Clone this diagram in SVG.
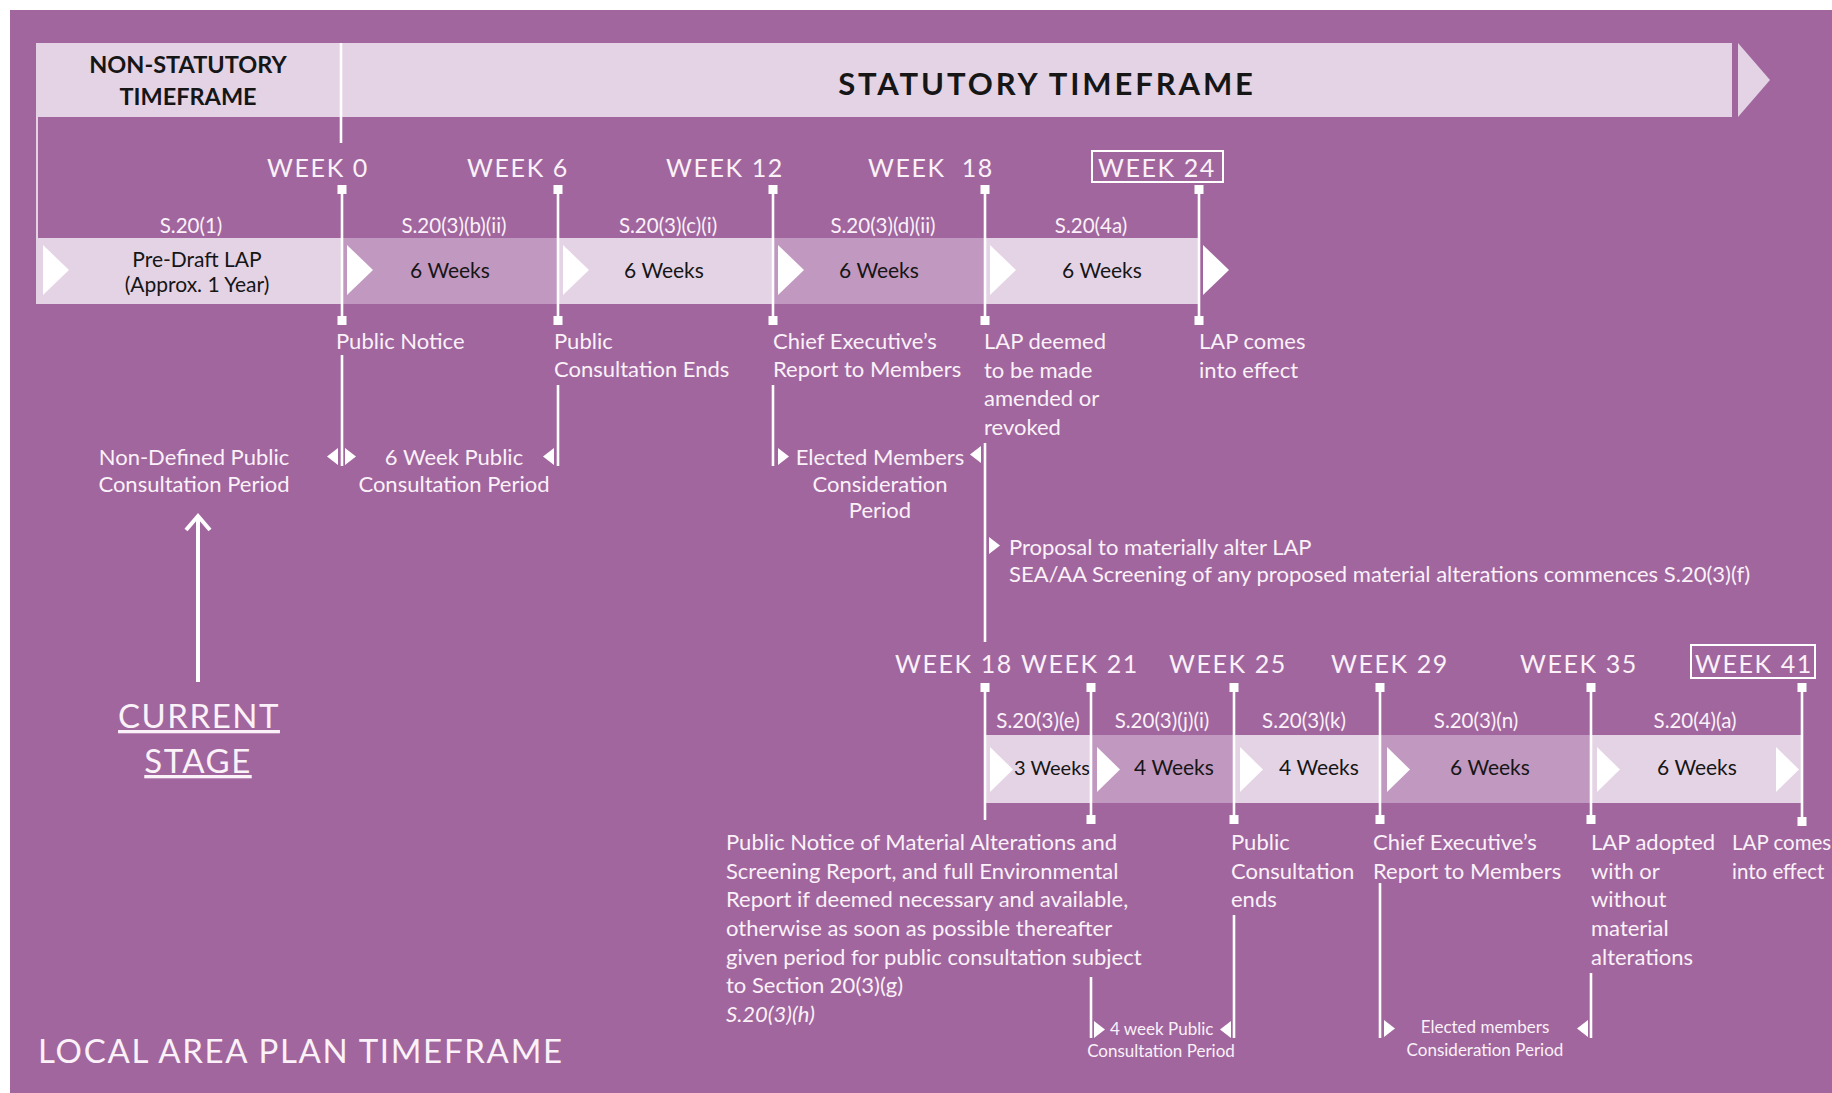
<svg xmlns="http://www.w3.org/2000/svg" width="1832" height="1093" viewBox="0 0 1832 1093">
<defs>
<style>
.t{font-family:Lato,"Open Sans","Liberation Sans",sans-serif;fill:#FAF1F9}
.d{font-family:Lato,"Open Sans","Liberation Sans",sans-serif;fill:#161616}
.wk{font-size:25px;letter-spacing:1.6px}
.sec{font-size:20.5px}
.bar{font-size:21px}
.lbl{font-size:22px}
.sm{font-size:17px}
.mid{text-anchor:middle}
.ln{stroke:#FFFFFF;stroke-width:2.6;fill:none}
.sq{fill:#FFFFFF}
.light{fill:#E4D3E5}
.med{fill:#C198C0}
.chev{fill:#FFFFFF}
</style>
<path id="chev1" d="M0,0 L26,25 L0,50 Z"/>
<path id="chev2" d="M0,0 L23,22.5 L0,45 Z"/>
<path id="tr" d="M0,0 L11,8.5 L0,17 Z"/>
<path id="tl" d="M11,0 L0,8.5 L11,17 Z"/>
<rect id="sqr" x="-4.5" y="0" width="9" height="9"/>
</defs>

<rect x="0" y="0" width="1832" height="1093" fill="#FFFFFF"/>
<rect x="10" y="10" width="1822" height="1083" fill="#A1669E"/>

<g id="banner">
<rect x="36" y="43" width="1696" height="74" class="light"/>
<path d="M1738,43 L1770,80 L1738,117 Z" class="light"/>
<text x="188" y="73" class="d mid" font-size="23.5" font-weight="bold">NON-STATUTORY</text>
<text x="188" y="105" class="d mid" font-size="23.5" font-weight="bold">TIMEFRAME</text>
<text x="1047" y="95" class="d mid" font-size="31" font-weight="bold" letter-spacing="2.9">STATUTORY TIMEFRAME</text>
</g>

<g id="timeline1">
<rect x="36" y="238" width="306" height="66" class="light"/>
<rect x="342" y="238" width="216" height="66" class="med"/>
<rect x="558" y="238" width="215" height="66" class="light"/>
<rect x="773" y="238" width="212" height="66" class="med"/>
<rect x="985" y="238" width="214" height="66" class="light"/>
<use href="#chev1" x="43" y="245" class="chev"/>
<use href="#chev1" x="347" y="245" class="chev"/>
<use href="#chev1" x="563" y="245" class="chev"/>
<use href="#chev1" x="778" y="245" class="chev"/>
<use href="#chev1" x="990" y="245" class="chev"/>
<use href="#chev1" x="1203" y="245" class="chev"/>
</g>

<g id="seg-predraft">
<text x="191" y="233" class="t sec mid">S.20(1)</text>
<text x="197" y="267" class="d bar mid">Pre-Draft LAP</text>
<text x="197" y="292" class="d bar mid">(Approx. 1 Year)</text>
</g>
<g id="seg-w0-6">
<text x="454" y="233" class="t sec mid">S.20(3)(b)(ii)</text>
<text x="450" y="278" class="d bar mid">6 Weeks</text>
</g>
<g id="seg-w6-12">
<text x="668" y="233" class="t sec mid">S.20(3)(c)(i)</text>
<text x="664" y="278" class="d bar mid">6 Weeks</text>
</g>
<g id="seg-w12-18">
<text x="883" y="233" class="t sec mid">S.20(3)(d)(ii)</text>
<text x="879" y="278" class="d bar mid">6 Weeks</text>
</g>
<g id="seg-w18-24">
<text x="1091" y="233" class="t sec mid">S.20(4a)</text>
<text x="1102" y="278" class="d bar mid">6 Weeks</text>
</g>

<g id="week0"><text x="318" y="177" class="t wk mid">WEEK 0</text></g>
<g id="week6"><text x="518" y="177" class="t wk mid">WEEK 6</text></g>
<g id="week12"><text x="725" y="177" class="t wk mid">WEEK 12</text></g>
<g id="week18"><text x="931" y="177" class="t wk mid" xml:space="preserve">WEEK  18</text></g>
<g id="week24">
<rect x="1092" y="151" width="131" height="31" fill="none" stroke="#FFFFFF" stroke-width="2"/>
<text x="1157" y="177" class="t wk mid">WEEK 24</text>
</g>

<g id="lbl-public-notice"><text x="336" y="349" class="t lbl">Public Notice</text></g>
<g id="lbl-consult-ends"><text x="554" y="349" class="t lbl">Public</text><text x="554" y="377" class="t lbl">Consultation Ends</text></g>
<g id="lbl-ce-report"><text x="773" y="349" class="t lbl">Chief Executive’s</text><text x="773" y="377" class="t lbl">Report to Members</text></g>
<g id="lbl-deemed"><text x="984" y="349" class="t lbl">LAP deemed</text><text x="984" y="378" class="t lbl">to be made</text><text x="984" y="406" class="t lbl">amended or</text><text x="984" y="435" class="t lbl">revoked</text></g>
<g id="lbl-effect1"><text x="1199" y="349" class="t lbl">LAP comes</text><text x="1199" y="378" class="t lbl">into effect</text></g>

<g id="period-nondefined"><text x="194" y="465" class="t lbl mid">Non-Defined Public</text><text x="194" y="492" class="t lbl mid">Consultation Period</text></g>
<g id="period-6week"><text x="454" y="465" class="t lbl mid">6 Week Public</text><text x="454" y="492" class="t lbl mid">Consultation Period</text></g>
<g id="period-elected1"><text x="880" y="465" class="t lbl mid">Elected Members</text><text x="880" y="492" class="t lbl mid">Consideration</text><text x="880" y="518" class="t lbl mid">Period</text></g>
<g id="proposal"><text x="1009" y="555" class="t lbl">Proposal to materially alter LAP</text><text x="1009" y="582" class="t lbl">SEA/AA Screening of any proposed material alterations commences S.20(3)(f)</text></g>

<g id="current-stage">
<line x1="198" y1="518" x2="198" y2="682" stroke="#FFFFFF" stroke-width="4"/>
<path d="M186,530 L198,516 L210,530" stroke="#FFFFFF" stroke-width="4" fill="none"/>
<text x="199" y="728" class="t mid" font-size="33" letter-spacing="1.5" text-decoration="underline">CURRENT</text>
<text x="198" y="773" class="t mid" font-size="33" letter-spacing="1.5" text-decoration="underline">STAGE</text>
</g>

<g id="timeline2">
<rect x="985" y="735" width="106" height="68" class="light"/>
<rect x="1091" y="735" width="143" height="68" class="med"/>
<rect x="1234" y="735" width="146" height="68" class="light"/>
<rect x="1380" y="735" width="211" height="68" class="med"/>
<rect x="1591" y="735" width="211" height="68" class="light"/>
<use href="#chev2" x="990" y="747" class="chev"/>
<use href="#chev2" x="1097" y="747" class="chev"/>
<use href="#chev2" x="1240" y="747" class="chev"/>
<use href="#chev2" x="1387" y="747" class="chev"/>
<use href="#chev2" x="1597" y="747" class="chev"/>
<use href="#chev2" x="1776" y="747" class="chev"/>
</g>

<g id="week18b"><text x="954" y="673" class="t wk mid">WEEK 18</text></g>
<g id="week21"><text x="1080" y="673" class="t wk mid">WEEK 21</text></g>
<g id="week25"><text x="1228" y="673" class="t wk mid">WEEK 25</text></g>
<g id="week29"><text x="1390" y="673" class="t wk mid">WEEK 29</text></g>
<g id="week35"><text x="1579" y="673" class="t wk mid">WEEK 35</text></g>
<g id="week41">
<rect x="1691" y="645" width="124" height="33" fill="none" stroke="#FFFFFF" stroke-width="2"/>
<text x="1754" y="673" class="t wk mid">WEEK 41</text>
</g>

<g id="seg2-a"><text x="1038" y="728" class="t sec mid">S.20(3)(e)</text><text x="1052" y="775" class="d mid" font-size="20">3 Weeks</text></g>
<g id="seg2-b"><text x="1162" y="728" class="t sec mid">S.20(3)(j)(i)</text><text x="1174" y="775" class="d bar mid">4 Weeks</text></g>
<g id="seg2-c"><text x="1304" y="728" class="t sec mid">S.20(3)(k)</text><text x="1319" y="775" class="d bar mid">4 Weeks</text></g>
<g id="seg2-d"><text x="1476" y="728" class="t sec mid">S.20(3)(n)</text><text x="1490" y="775" class="d bar mid">6 Weeks</text></g>
<g id="seg2-e"><text x="1695" y="728" class="t sec mid">S.20(4)(a)</text><text x="1697" y="775" class="d bar mid">6 Weeks</text></g>

<g id="lbl-material-notice">
<text x="726" y="850" class="t lbl">Public Notice of Material Alterations and</text>
<text x="726" y="879" class="t lbl">Screening Report, and full Environmental</text>
<text x="726" y="907" class="t lbl">Report if deemed necessary and available,</text>
<text x="726" y="936" class="t lbl">otherwise as soon as possible thereafter</text>
<text x="726" y="965" class="t lbl">given period for public consultation subject</text>
<text x="726" y="993" class="t lbl">to Section 20(3)(g)</text>
<text x="726" y="1022" class="t lbl" font-style="italic">S.20(3)(h)</text>
</g>
<g id="lbl-consult-ends2"><text x="1231" y="850" class="t lbl">Public</text><text x="1231" y="879" class="t lbl">Consultation</text><text x="1231" y="907" class="t lbl">ends</text></g>
<g id="lbl-ce-report2"><text x="1373" y="850" class="t lbl">Chief Executive’s</text><text x="1373" y="879" class="t lbl">Report to Members</text></g>
<g id="lbl-adopted"><text x="1591" y="850" class="t lbl">LAP adopted</text><text x="1591" y="879" class="t lbl">with or</text><text x="1591" y="907" class="t lbl">without</text><text x="1591" y="936" class="t lbl">material</text><text x="1591" y="965" class="t lbl">alterations</text></g>
<g id="lbl-effect2"><text x="1732" y="850" class="t" font-size="20.5">LAP comes</text><text x="1732" y="879" class="t" font-size="20.5">into effect</text></g>
<g id="period-4week"><text x="1110" y="1035" class="t sm">4 week Public</text><text x="1161" y="1057" class="t sm mid">Consultation Period</text></g>
<g id="period-elected2"><text x="1485" y="1033" class="t sm mid">Elected members</text><text x="1485" y="1056" class="t sm mid">Consideration Period</text></g>

<g id="title"><text x="38" y="1063" class="t" font-size="33" letter-spacing="1.7">LOCAL AREA PLAN TIMEFRAME</text></g>

<g id="connectors">
<line x1="37" y1="117" x2="37" y2="238" stroke="#E4D3E5" stroke-width="2"/>
<line x1="341" y1="43" x2="341" y2="143" class="ln"/>
<g>
<line x1="342" y1="190" x2="342" y2="320" class="ln"/><use href="#sqr" x="342" y="185" class="sq"/><use href="#sqr" x="342" y="316" class="sq"/>
<line x1="558" y1="190" x2="558" y2="320" class="ln"/><use href="#sqr" x="558" y="185" class="sq"/><use href="#sqr" x="558" y="316" class="sq"/>
<line x1="773" y1="190" x2="773" y2="320" class="ln"/><use href="#sqr" x="773" y="185" class="sq"/><use href="#sqr" x="773" y="316" class="sq"/>
<line x1="985" y1="190" x2="985" y2="320" class="ln"/><use href="#sqr" x="985" y="185" class="sq"/><use href="#sqr" x="985" y="316" class="sq"/>
<line x1="1199" y1="190" x2="1199" y2="320" class="ln"/><use href="#sqr" x="1199" y="185" class="sq"/><use href="#sqr" x="1199" y="316" class="sq"/>
</g>
<line x1="342" y1="355" x2="342" y2="466" class="ln"/>
<use href="#tl" x="327" y="448" class="sq"/><use href="#tr" x="345" y="448" class="sq"/>
<line x1="558" y1="385" x2="558" y2="466" class="ln"/>
<use href="#tl" x="543" y="448" class="sq"/>
<line x1="773" y1="385" x2="773" y2="466" class="ln"/>
<use href="#tr" x="778" y="448" class="sq"/>
<line x1="985" y1="443" x2="985" y2="642" class="ln"/>
<use href="#tl" x="970" y="446" class="sq"/>
<use href="#tr" x="989" y="537" class="sq"/>
<g>
<line x1="985" y1="688" x2="985" y2="820" class="ln"/><use href="#sqr" x="985" y="683" class="sq"/>
<line x1="1091" y1="688" x2="1091" y2="820" class="ln"/><use href="#sqr" x="1091" y="683" class="sq"/><use href="#sqr" x="1091" y="815" class="sq"/>
<line x1="1234" y1="688" x2="1234" y2="820" class="ln"/><use href="#sqr" x="1234" y="683" class="sq"/><use href="#sqr" x="1234" y="815" class="sq"/>
<line x1="1380" y1="688" x2="1380" y2="820" class="ln"/><use href="#sqr" x="1380" y="683" class="sq"/><use href="#sqr" x="1380" y="815" class="sq"/>
<line x1="1591" y1="688" x2="1591" y2="820" class="ln"/><use href="#sqr" x="1591" y="683" class="sq"/><use href="#sqr" x="1591" y="815" class="sq"/>
<line x1="1802" y1="688" x2="1802" y2="820" class="ln"/><use href="#sqr" x="1802" y="683" class="sq"/><use href="#sqr" x="1802" y="817" class="sq"/>
</g>
<line x1="1091" y1="977" x2="1091" y2="1038" class="ln"/>
<use href="#tr" x="1094" y="1021" class="sq"/>
<line x1="1234" y1="915" x2="1234" y2="1038" class="ln"/>
<use href="#tl" x="1220" y="1021" class="sq"/>
<line x1="1380" y1="883" x2="1380" y2="1038" class="ln"/>
<use href="#tr" x="1384" y="1020" class="sq"/>
<line x1="1591" y1="973" x2="1591" y2="1038" class="ln"/>
<use href="#tl" x="1577" y="1020" class="sq"/>
</g>
</svg>
